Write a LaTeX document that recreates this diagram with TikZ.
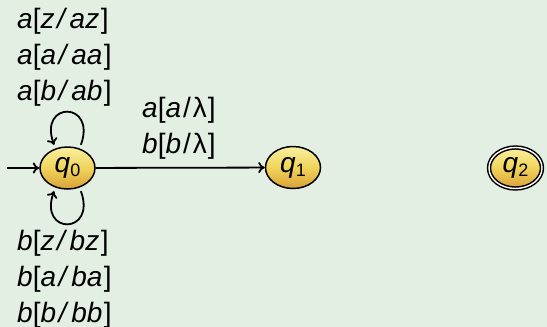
\documentclass[tikz,border=0pt]{standalone}
\usepackage{fontspec}
\setmainfont{Liberation Sans}
\usetikzlibrary{shapes.geometric,arrows.meta}
\definecolor{bgc}{RGB}{228,239,228}
\definecolor{ntop}{RGB}{250,240,160}
\definecolor{nmid}{RGB}{240,212,90}
\definecolor{nbot}{RGB}{216,160,56}
\newcommand{\myslash}{\kern2.5pt\textit{/}\kern2.5pt}
\newcommand{\lab}[3]{\textit{#1}[\textit{#2}\myslash\textit{#3}\kern1.5pt]}
\newcommand{\labl}[2]{\textit{#1}[\textit{#2}\kern2pt/\kern2pt λ\kern1pt]}
\newcommand{\st}[1]{\textit{q}\raisebox{-4pt}{\fontsize{18}{18}\selectfont #1}}
\begin{document}
\begin{tikzpicture}[x=1pt,y=-1pt,
  every node/.style={font=\fontsize{28}{36}\selectfont},
  state/.style={ellipse,draw=black,line width=1.5pt,minimum width=55pt,minimum height=42pt,inner sep=0pt,
    top color=ntop,bottom color=nbot,middle color=nmid},
  acc/.style={state,double=white,double distance=1.4pt,minimum width=53pt,minimum height=41pt},
  tr/.style={draw=black,line width=1.8pt,-{To[length=6.5pt,width=11pt]}},
  lbl/.style={align=left,anchor=base west,inner sep=0pt}]
\fill[bgc] (0,0) rectangle (547,327);
\useasboundingbox (0,0) rectangle (547,327);
\node[state] (q0) at (67.5,168) {\st{0}};
\node[state] (q1) at (293,167.5) {\st{1}};
\node[acc] (q2) at (515.5,168) {\st{2}};
\coordinate (init) at (7,168);
\draw[tr] (init) -- (q0);
\draw[tr] (q0) -- (q1);
\draw[tr] ([yshift=4pt]q0.55) .. controls +(16,-44) and +(-16,-44) .. ([yshift=4pt]q0.125);
\draw[tr] ([yshift=-4pt]q0.-55) .. controls +(16,44) and +(-16,44) .. ([yshift=-4pt]q0.-125);
\node[lbl] (top) at (17,100) {\lab{a}{z}{az}\\\lab{a}{a}{aa}\\\lab{a}{b}{ab}};
\node[lbl] (bot) at (17,322) {\lab{b}{z}{bz}\\\lab{b}{a}{ba}\\\lab{b}{b}{bb}};
\node[lbl] (mid) at (142,153) {\labl{a}{a}\\\labl{b}{b}};
\end{tikzpicture}
\end{document}
